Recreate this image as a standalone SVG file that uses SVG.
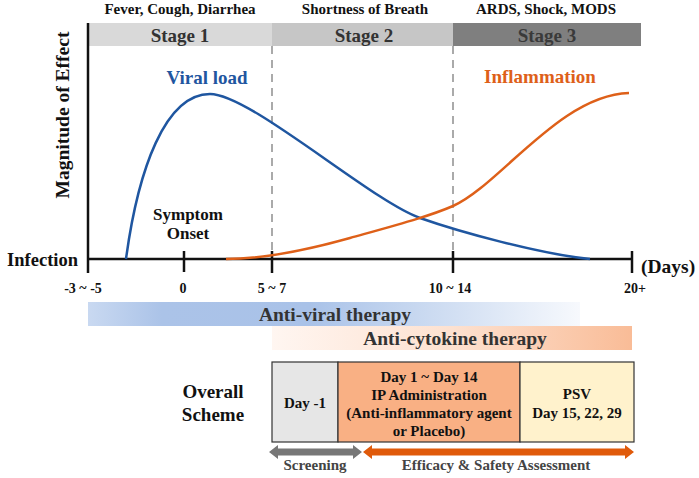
<svg xmlns="http://www.w3.org/2000/svg" width="699" height="478" viewBox="0 0 699 478">
<style>
text{font-family:"Liberation Serif","Times New Roman",serif;font-weight:bold;fill:#111}
.top{font-size:15px;text-anchor:middle}
.stage{font-size:19px;text-anchor:middle;fill:#333}
.tick{font-size:14px;text-anchor:middle}
.box{font-size:15px;text-anchor:middle}
.axis{stroke:#111;stroke-width:2.5;fill:none}
.dash{stroke:#aaa;stroke-width:2;stroke-dasharray:8 6;fill:none}
.frame{stroke:#333;stroke-width:1.2}
.lbl{font-size:15px;text-anchor:middle;fill:#444}
.ther{font-size:19.5px;text-anchor:middle;fill:#333}
</style>
<defs>
<linearGradient id="gv" x1="0" x2="1" y1="0" y2="0">
<stop offset="0" stop-color="#c9d9f1"/>
<stop offset="0.15" stop-color="#abc3e8"/>
<stop offset="0.45" stop-color="#a9c2e8"/>
<stop offset="0.75" stop-color="#d3e0f3"/>
<stop offset="1" stop-color="#f7f9fd"/>
</linearGradient>
<linearGradient id="gc" x1="0" x2="1" y1="0" y2="0">
<stop offset="0" stop-color="#fff6f1"/>
<stop offset="0.5" stop-color="#fde1d0"/>
<stop offset="1" stop-color="#f9bc97"/>
</linearGradient>
</defs>
<rect width="699" height="478" fill="#fff"/>

<g id="symptoms">
<text class="top" x="180" y="14">Fever, Cough, Diarrhea</text>
<text class="top" x="365" y="14">Shortness of Breath</text>
<text class="top" x="546" y="14">ARDS, Shock, MODS</text>
</g>

<g id="stage1"><rect x="88" y="23" width="184" height="23" fill="#d9d9d9"/><text class="stage" x="180" y="41.5">Stage 1</text></g>
<g id="stage2"><rect x="272" y="23" width="181" height="23" fill="#c6c6c6"/><text class="stage" x="364" y="41.5">Stage 2</text></g>
<g id="stage3"><rect x="453" y="23" width="188" height="23" fill="#7f7f7f"/><text class="stage" x="547" y="41.5" style="fill:#3a3a3a">Stage 3</text></g>

<g id="axes">
<line class="dash" x1="272" y1="46" x2="272" y2="259"/>
<line class="dash" x1="453" y1="46" x2="453" y2="259"/>
<line class="axis" x1="88" y1="23" x2="88" y2="273"/>
<line class="axis" x1="88" y1="259" x2="632" y2="259"/>
<line class="axis" x1="184" y1="251" x2="184" y2="272"/>
<line class="axis" x1="272" y1="251" x2="272" y2="273"/>
<line class="axis" x1="453" y1="251" x2="453" y2="273"/>
<line class="axis" x1="632" y1="251" x2="632" y2="273"/>
<text x="62" y="115" font-size="19.5" text-anchor="middle" transform="rotate(-90 62 115)" dy="7">Magnitude of Effect</text>
<text x="78" y="266" font-size="18.5" text-anchor="end">Infection</text>
<text x="641" y="273" font-size="19.5">(Days)</text>
<text class="tick" x="83" y="293">-3 ~ -5</text>
<text class="tick" x="183" y="293">0</text>
<text class="tick" x="272" y="293">5 ~ 7</text>
<text class="tick" x="450" y="293">10 ~ 14</text>
<text class="tick" x="635" y="293">20+</text>
<text x="188" y="220" font-size="17" text-anchor="middle">Symptom</text>
<text x="188" y="239" font-size="17" text-anchor="middle">Onset</text>
</g>

<g id="curves">
<path d="M126,259 C138,170 165,94 210,94 C250,94 370,200 420,218 C460,232 540,254 590,259" fill="none" stroke="#1f56a0" stroke-width="2.5"/>
<path d="M226,259 C260,259 300,252 350,238 S430,216 453,206 C500,185 560,95 629,93" fill="none" stroke="#de6019" stroke-width="2.5"/>
<text x="207" y="84" font-size="19" text-anchor="middle" style="fill:#1f56a0">Viral load</text>
<text x="540" y="83" font-size="19" text-anchor="middle" style="fill:#de6019">Inflammation</text>
</g>

<g id="therapies">
<rect x="88" y="302" width="492" height="24" fill="url(#gv)"/>
<rect x="272" y="326" width="360" height="24" fill="url(#gc)"/>
<text class="ther" x="335" y="321">Anti-viral therapy</text>
<text class="ther" x="455" y="345">Anti-cytokine therapy</text>
</g>

<g id="scheme-label">
<text x="213" y="398" font-size="19" text-anchor="middle">Overall</text>
<text x="213" y="421" font-size="19" text-anchor="middle">Scheme</text>
</g>
<g id="day-1"><rect class="frame" x="272" y="362" width="66" height="80" fill="#e6e6e6"/><text class="box" x="305" y="408">Day -1</text></g>
<g id="ip-admin"><rect class="frame" x="338" y="362" width="182" height="80" fill="#f9b084"/>
<text class="box" x="429" y="382">Day 1 ~ Day 14</text>
<text class="box" x="429" y="400">IP Administration</text>
<text class="box" x="429" y="418">(Anti-inflammatory agent</text>
<text class="box" x="429" y="436">or Placebo)</text></g>
<g id="psv"><rect class="frame" x="520" y="362" width="114" height="80" fill="#fff2cc"/>
<text class="box" x="577" y="399">PSV</text>
<text class="box" x="577" y="418">Day 15, 22, 29</text></g>

<g id="connectors">
<polygon points="269,452 278,445 278,448.5 353,448.5 353,445 362,452 353,459 353,455.5 278,455.5 278,459" fill="#777"/>
<polygon points="363,452 372,445 372,448.5 625,448.5 625,445 634,452 625,459 625,455.5 372,455.5 372,459" fill="#e05a0a"/>
<text class="lbl" x="315" y="470">Screening</text>
<text class="lbl" x="496" y="470">Efficacy &amp; Safety Assessment</text>
</g>
</svg>
